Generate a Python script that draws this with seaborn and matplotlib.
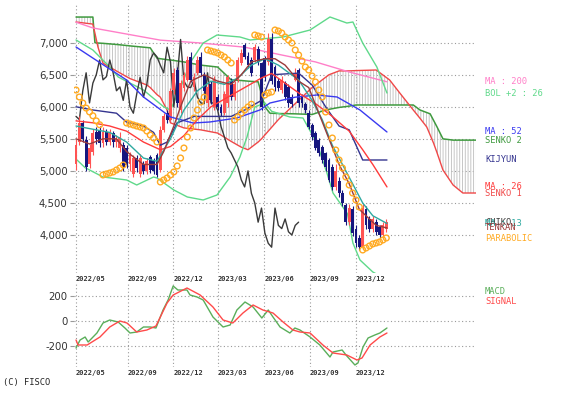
import numpy as np
import pandas as pd
import matplotlib
matplotlib.use("Agg")
import matplotlib.pyplot as plt
import seaborn as sns

sns.set_theme(style="white")
plt.rcParams["font.family"] = ["DejaVu Sans"]
plt.rcParams["axes.unicode_minus"] = False
plt.rcParams["hatch.linewidth"] = 0.6

# ---------------- data (weekly bars, index = week number) ----------------
OPEN = [5100, 5450, 5750, 5480, 5100, 5300, 5600, 5640, 5430, 5600, 5450, 5590, 5450, 5360, 5400, 5360,
        5100, 4950, 5200, 4950, 5100, 5000, 5220, 5150, 5250, 5010, 5640, 5900, 5800, 6260, 6570, 5950,
        6300, 6420, 6780, 6310, 6530, 6780, 6500, 6060, 6350, 6000, 6150, 6000, 5900, 6060, 6400, 6150,
        6420, 6680, 6960, 6800, 6730, 6730, 6900, 6680, 6760, 6700, 7050, 6620, 6400, 6260, 6370, 6310,
        6150, 6420, 6570, 6150, 6050, 5900, 5720, 5590, 5480, 5370, 5280, 5170, 5060, 4750, 4850, 4650,
        4470, 4200, 4400, 4100, 3950, 3810, 4400, 4250, 4100, 4200, 4120, 4000, 4100]
CLOSE = [5400, 5750, 5500, 5060, 5350, 5590, 5500, 5430, 5600, 5450, 5600, 5450, 5500, 5530, 5060, 5090,
         5250, 5200, 5050, 5200, 5000, 5150, 5010, 5000, 4940, 5640, 5850, 5800, 6250, 6530, 6060, 6370,
         6500, 6730, 6420, 6470, 6730, 6530, 6250, 6310, 6100, 6420, 6000, 5900, 6200, 6460, 6150, 6350,
         6730, 6840, 6780, 6650, 6530, 6930, 6700, 6000, 6460, 7050, 6400, 6310, 6300, 6420, 6150, 6060,
         6050, 6530, 6060, 6060, 5950, 5690, 5530, 5360, 5280, 5170, 5060, 4860, 4750, 5000, 4650, 4500,
         4200, 4420, 4030, 3870, 3810, 4420, 4150, 4100, 4250, 4050, 4000, 4150, 4200]
HIGH = [5500, 5850, 5800, 5550, 5420, 5650, 5680, 5700, 5680, 5650, 5650, 5620, 5560, 5600, 5450, 5400,
        5300, 5250, 5250, 5260, 5150, 5200, 5250, 5200, 5280, 5700, 5900, 5950, 6300, 6600, 6620, 6420,
        6550, 6800, 6850, 6520, 6800, 6850, 6550, 6350, 6400, 6480, 6200, 6050, 6250, 6500, 6450, 6400,
        6780, 6900, 7000, 6850, 6780, 6980, 6950, 6700, 6800, 7150, 7150, 6650, 6450, 6480, 6400, 6350,
        6200, 6600, 6600, 6200, 6080, 5950, 5750, 5620, 5520, 5400, 5300, 5200, 5100, 5100, 4900, 4700,
        4500, 4480, 4450, 4150, 4000, 4480, 4450, 4300, 4300, 4250, 4150, 4200, 4250]
LOW = [5020, 5400, 5450, 5000, 5050, 5250, 5420, 5380, 5380, 5400, 5400, 5380, 5380, 5300, 5000, 5050,
       5000, 4900, 4980, 4900, 4950, 4950, 4960, 4950, 4900, 4980, 5600, 5750, 5780, 6200, 6000, 5900,
       6250, 6400, 6380, 6250, 6500, 6480, 6200, 6000, 6050, 5950, 5950, 5850, 5870, 6000, 6100, 6100,
       6380, 6650, 6740, 6600, 6480, 6700, 6650, 5950, 6400, 6650, 6350, 6250, 6250, 6220, 6100, 6000,
       6000, 6400, 6000, 6000, 5900, 5650, 5480, 5320, 5230, 5120, 5000, 4820, 4700, 4700, 4600, 4450,
       4150, 4150, 3980, 3820, 3760, 3780, 4100, 4050, 4050, 4000, 3950, 3970, 4050]

PARABOLIC = [6262, 6153, 6059, 5980, 5920, 5860, 5780, 5720,
             4936, 4952, 4967, 4983, 5014, 5045, 5092,
             5747, 5732, 5716, 5700, 5685, 5669, 5622, 5560, 5513, 5451,
             4827, 4858, 4889, 4936, 4983, 5076, 5201, 5357, 5529, 5669, 5825, 5950, 6075, 6150,
             6886, 6870, 6855, 6839, 6808, 6777, 6730, 6683,
             5794, 5841, 5903, 5950, 5997, 6040,
             7120, 7105, 7089,
             6184, 6215, 6231,
             7198, 7182, 7151, 7089, 7042, 6995, 6886, 6808, 6714, 6621, 6574, 6480, 6387,
             6262, 6153, 5919, 5716, 5513, 5326, 5170, 5045, 4905, 4780, 4655, 4546, 4437,
             3766, 3797, 3828, 3860, 3875, 3891, 3922, 3953]

CHIKO_SHIFT = 26

MA200_W = [0, 5, 25, 37, 50, 61, 71, 81, 92.2]
MA200 = [7320, 7230, 7040, 6995, 6930, 6808, 6700, 6543, 6390]

MA52_W = [0, 5, 15, 20, 28, 34.7, 39.7, 47.7, 54.5, 57.5, 65, 71.4, 77.4, 84.2, 92.2]
MA52 = [6933, 6760, 6418, 6153, 5841, 5747, 5763, 5825, 5950, 6059, 6150, 6184, 6153, 5950, 5607]

MA26_W = [0, 5, 10, 15, 20, 25, 28, 32, 36, 40, 45, 50, 55, 58, 63, 67, 71, 76, 81, 85, 88, 92.2]
MA26 = [5780, 5750, 5700, 5620, 5450, 5330, 5380, 5550, 5800, 6000, 6150, 6300, 6450, 6520, 6330,
        6180, 6050, 5850, 5620, 5330, 5100, 4750]

MA13_W = [0, 5, 10, 15, 20, 24, 28, 32, 36, 40, 44, 48, 52, 56, 60, 66, 70, 73, 76, 79, 82, 85, 88, 92.2]
MA13 = [5700, 5650, 5600, 5450, 5200, 5150, 5500, 5950, 6250, 6400, 6350, 6450, 6650, 6750, 6650,
        6420, 6100, 5800, 5400, 5100, 4800, 4500, 4300, 4180]

TENKAN_W = [0, 4, 8, 12, 15, 20, 24, 26, 29, 31, 34, 38, 42, 46, 49, 52, 56, 59, 62, 66, 69, 72, 75,
            78, 81, 84, 86, 89, 92.2]
TENKAN = [5500, 5420, 5500, 5500, 5300, 5100, 5100, 5300, 5700, 6000, 6400, 6500, 6400, 6350, 6500,
          6700, 6750, 6750, 6650, 6400, 6300, 5900, 5500, 5100, 4800, 4400, 4300, 4150, 4110]

KIJUN_W = [0, 5, 12, 15, 20, 23, 25, 27, 30, 35, 46, 50, 55, 58, 66, 70, 74, 78, 81, 85, 92.2]
KIJUN = [6000, 5950, 5900, 5760, 5700, 5600, 5400, 5450, 5750, 5850, 5850, 5950, 6100, 6500, 6525,
         6340, 6000, 5700, 5640, 5170, 5170]

BOLU_W = [0, 5, 10, 12.5, 20, 26, 28, 31, 34, 37.7, 41.8, 48.6, 51.6, 61.4, 69.4, 75.3, 80.3, 82.1,
          85, 89.2, 92.2]
BOL_UP = [7042, 6886, 6621, 6465, 6262, 6000, 5950, 6300, 6700, 6995, 7120, 7089, 7042, 7089, 7198,
          7401, 7307, 7323, 6995, 6621, 6215]

BOLL_W = [0.3, 2.7, 8, 15, 18, 23, 24, 29, 33, 37.7, 41.8, 45.7, 48.6, 50.7, 53, 56, 58, 63.4, 67.3,
          71.4, 74.4, 76.2, 80.5, 82.1, 84.2, 88, 92.2]
BOL_LO = [5170, 5050, 4905, 4858, 4780, 4905, 4889, 4702, 4593, 4546, 4624, 4905, 5217, 5529, 5997,
          6060, 5930, 5841, 5825, 5435, 4967, 4655, 4330, 3875, 3610, 3423, 3300]

SENKO_W = [0, 5, 5.6, 6.5, 8, 12.5, 16, 21, 22, 24, 25, 27, 28, 32, 37, 42, 46, 49, 51, 54, 55, 56,
           57.5, 60, 65, 70, 74, 75, 78, 81, 83, 89, 93, 96, 100, 102, 104, 105, 106, 107, 108.8,
           111.8, 114.7, 118.6]
SENKO1 = [7323, 7290, 7150, 6933, 6680, 6543, 6440, 6340, 6300, 6190, 6150, 5950, 5750, 5670, 5640,
          5590, 5460, 5370, 5330, 5450, 5500, 5560, 5650, 5800, 6050, 6300, 6460, 6500, 6560, 6560,
          6565, 6574, 6418, 6215, 5950, 5820, 5685, 5560, 5435, 5290, 5014, 4780, 4655, 4655]
SENKO2 = [7400, 7400, 7000, 6995, 6990, 6970, 6950, 6925, 6920, 6760, 6750, 6735, 6730, 6700, 6650,
          6620, 6420, 6410, 6400, 6390, 6200, 6000, 5900, 5895, 5890, 5880, 5950, 5960, 5990, 6010,
          6028, 6028, 6028, 6028, 6028, 5950, 5910, 5890, 5790, 5690, 5500, 5480, 5480, 5480]

MACD_W = [0, 1.2, 2.7, 3.6, 6.2, 8, 10, 12.5, 14.5, 16, 18, 20, 22, 23.7, 25.8, 27.3, 28.8, 30.2,
          32.9, 33.8, 35.9, 37.7, 40.6, 43.6, 45.7, 47.7, 50.1, 52.5, 55.1, 57, 58.4, 60.5, 63.4,
          64.9, 66.4, 69.4, 72.3, 75.3, 76.2, 78.9, 80.3, 82.7, 83.6, 85.1, 86.6, 88.6, 90.1, 92.2]
MACD = [-216, -152, -128, -168, -96, -16, 8, -8, -56, -96, -88, -48, -48, -56, 88, 168, 280, 248,
        248, 208, 192, 168, 32, -48, -32, 88, 152, 112, 24, 88, 32, -48, -96, -56, -72, -128, -192,
        -288, -248, -232, -280, -352, -336, -208, -136, -112, -96, -56]
SIGNAL_W = [0, 0.6, 3.3, 7.1, 10, 13, 15.1, 18, 21, 23.7, 27, 28.8, 32.9, 36.8, 40.6, 43.6, 46.5,
            49.5, 52.5, 55.4, 58.4, 61.4, 64.3, 66.4, 69.4, 73.2, 76.2, 80.3, 83.3, 84.8, 87.2, 90.1,
            92.2]
SIGNAL = [-152, -192, -192, -128, -48, 0, -16, -88, -72, -40, 144, 208, 264, 208, 112, 8, -16, 64,
          128, 88, 64, -8, -72, -88, -96, -192, -256, -272, -312, -296, -192, -128, -96]

TICK_W = [0, 15.4, 28.8, 42.1, 55.8, 69.4, 83.0]
TICK_LABELS = ["2022/05", "2022/09", "2022/12", "2023/03", "2023/06", "2023/09", "2023/12"]
PRICE_TICKS = [4000, 4500, 5000, 5500, 6000, 6500, 7000]
MACD_TICKS = [-200, 0, 200]

# ---------------- styling ----------------
C_UP, C_DN = "#ff5353", "#16167e"
C_MA200, C_BOL, C_MA52, C_S2 = "#ff7fc8", "#5fd98a", "#3a3af0", "#3f9a3f"
C_KIJ, C_MA26, C_S1, C_CHI = "#34348f", "#ff3b3b", "#f04848", "#3a3a3a"
C_TEN, C_MA13, C_SAR = "#9a3a3a", "#2fa9a0", "#ffaa22"
GRID = dict(color="#9a9a9a", linestyle=(0, (1, 2.2)), linewidth=0.8)
MONO = "DejaVu Sans Mono"

W, H = 564, 396
fig = plt.figure(figsize=(W / 100, H / 100), dpi=100)
ax = fig.add_axes([74 / W, 1 - 273 / H, 402 / W, 268 / H])
mx = fig.add_axes([74 / W, 1 - 367 / H, 402 / W, 83 / H])

XLIM = (-0.6, 118.6)
weeks = np.arange(len(CLOSE))

# ---- Ichimoku cloud
ax.fill_between(SENKO_W, SENKO1, SENKO2, facecolor="none", edgecolor="#bdbdbd",
                hatch="||||||", linewidth=0, zorder=1)

def line(a, xs, ys, color, lw=1.0, z=3):
    df = pd.DataFrame({"x": xs, "y": ys})
    sns.lineplot(data=df, x="x", y="y", ax=a, color=color, lw=lw, sort=False,
                 estimator=None, zorder=z, legend=False)

line(ax, SENKO_W, SENKO2, C_S2, 1.1, 2)
line(ax, SENKO_W, SENKO1, C_S1, 1.0, 2)
line(ax, MA200_W, MA200, C_MA200, 1.0)
line(ax, BOLU_W, BOL_UP, C_BOL, 1.0)
line(ax, BOLL_W, BOL_LO, C_BOL, 1.0)
line(ax, weeks[:len(CLOSE) - CHIKO_SHIFT], CLOSE[CHIKO_SHIFT:], C_CHI, 1.0)

# ---- candles
o, c, h, l = map(np.array, (OPEN, CLOSE, HIGH, LOW))
up = c >= o
cols = np.where(up, C_UP, C_DN)
ax.vlines(weeks, l, h, colors=cols, lw=0.8, zorder=4)
ax.bar(weeks, np.abs(c - o), bottom=np.minimum(o, c), width=0.85, color=cols,
       linewidth=0, zorder=4)

line(ax, MA52_W, MA52, C_MA52, 1.0, 5)
line(ax, KIJUN_W, KIJUN, C_KIJ, 1.0, 5)
line(ax, MA26_W, MA26, C_MA26, 1.0, 5)
line(ax, MA13_W, MA13, C_MA13, 1.0, 5)
line(ax, TENKAN_W, TENKAN, C_TEN, 1.0, 5)

sns.scatterplot(x=weeks, y=PARABOLIC, ax=ax, s=17, marker="o", facecolor="none",
                edgecolor=C_SAR, linewidth=1.0, zorder=6, legend=False)

ax.set_xlim(*XLIM)
ax.set_ylim(3407, 7588)
ax.set_yticks(PRICE_TICKS)
ax.set_yticklabels([f"{v:,}" for v in PRICE_TICKS])
ax.set_xticks(TICK_W)
ax.set_xticklabels(TICK_LABELS)

# ---- MACD panel
line(mx, MACD_W, MACD, "#5aae5a", 1.0)
line(mx, SIGNAL_W, SIGNAL, "#ff4a4a", 1.0)
mx.set_xlim(*XLIM)
mx.set_ylim(-368, 296)
mx.set_yticks(MACD_TICKS)
mx.set_yticklabels([str(v) for v in MACD_TICKS])
mx.set_xticks(TICK_W)
mx.set_xticklabels(TICK_LABELS)

for a in (ax, mx):
    a.set_xlabel("")
    a.set_ylabel("")
    a.set_facecolor("white")
    for s in a.spines.values():
        s.set_visible(False)
    a.grid(True, **GRID)
    a.set_axisbelow(True)
    a.tick_params(axis="y", length=3, width=0.8, color="#9a9a9a", pad=1.5,
                  labelsize=7.3, labelcolor="#333333", left=True)
    a.tick_params(axis="x", length=0, pad=2.5, labelsize=5.0, labelcolor="#333333")
    for t in a.get_xticklabels():
        t.set_horizontalalignment("left")
        t.set_fontfamily(MONO)
        t.set_fontweight("bold")

# ---- right-hand labels
LX = 121.3
labels = [
    ("MA : 200", MA200[-1], C_MA200),
    ("BOL +2 : 26", BOL_UP[-1], C_BOL),
    ("MA : 52", MA52[-1], C_MA52),
    ("SENKO 2", SENKO2[-1], C_S2),
    ("KIJYUN", KIJUN[-1], C_KIJ),
    ("MA : 26", MA26[-1], C_MA26),
    ("SENKO 1", SENKO1[-1], C_S1),
    ("CHIKO", CLOSE[-1], C_CHI),
    ("MA : 13", MA13[-1], C_MA13),
    ("TENKAN", TENKAN[-1], C_TEN),
    ("PARABOLIC", PARABOLIC[-1], C_SAR),
]
for txt, yv, col in labels:
    ax.text(LX, yv, txt, color=col, fontsize=6.3, family=MONO, va="center",
            ha="left", clip_on=False)

mx.text(LX, 232, "MACD", color="#5aae5a", fontsize=6.3, family=MONO, va="center",
        clip_on=False)
mx.text(LX, 152, "SIGNAL", color="#ff4a4a", fontsize=6.3, family=MONO, va="center",
        clip_on=False)

fig.text(3 / W, 1 - 383 / H, "(C) FISCO", fontsize=6.3, family=MONO, color="#222222",
         va="center", ha="left")

fig.savefig("out.png", dpi=100, facecolor="white")
